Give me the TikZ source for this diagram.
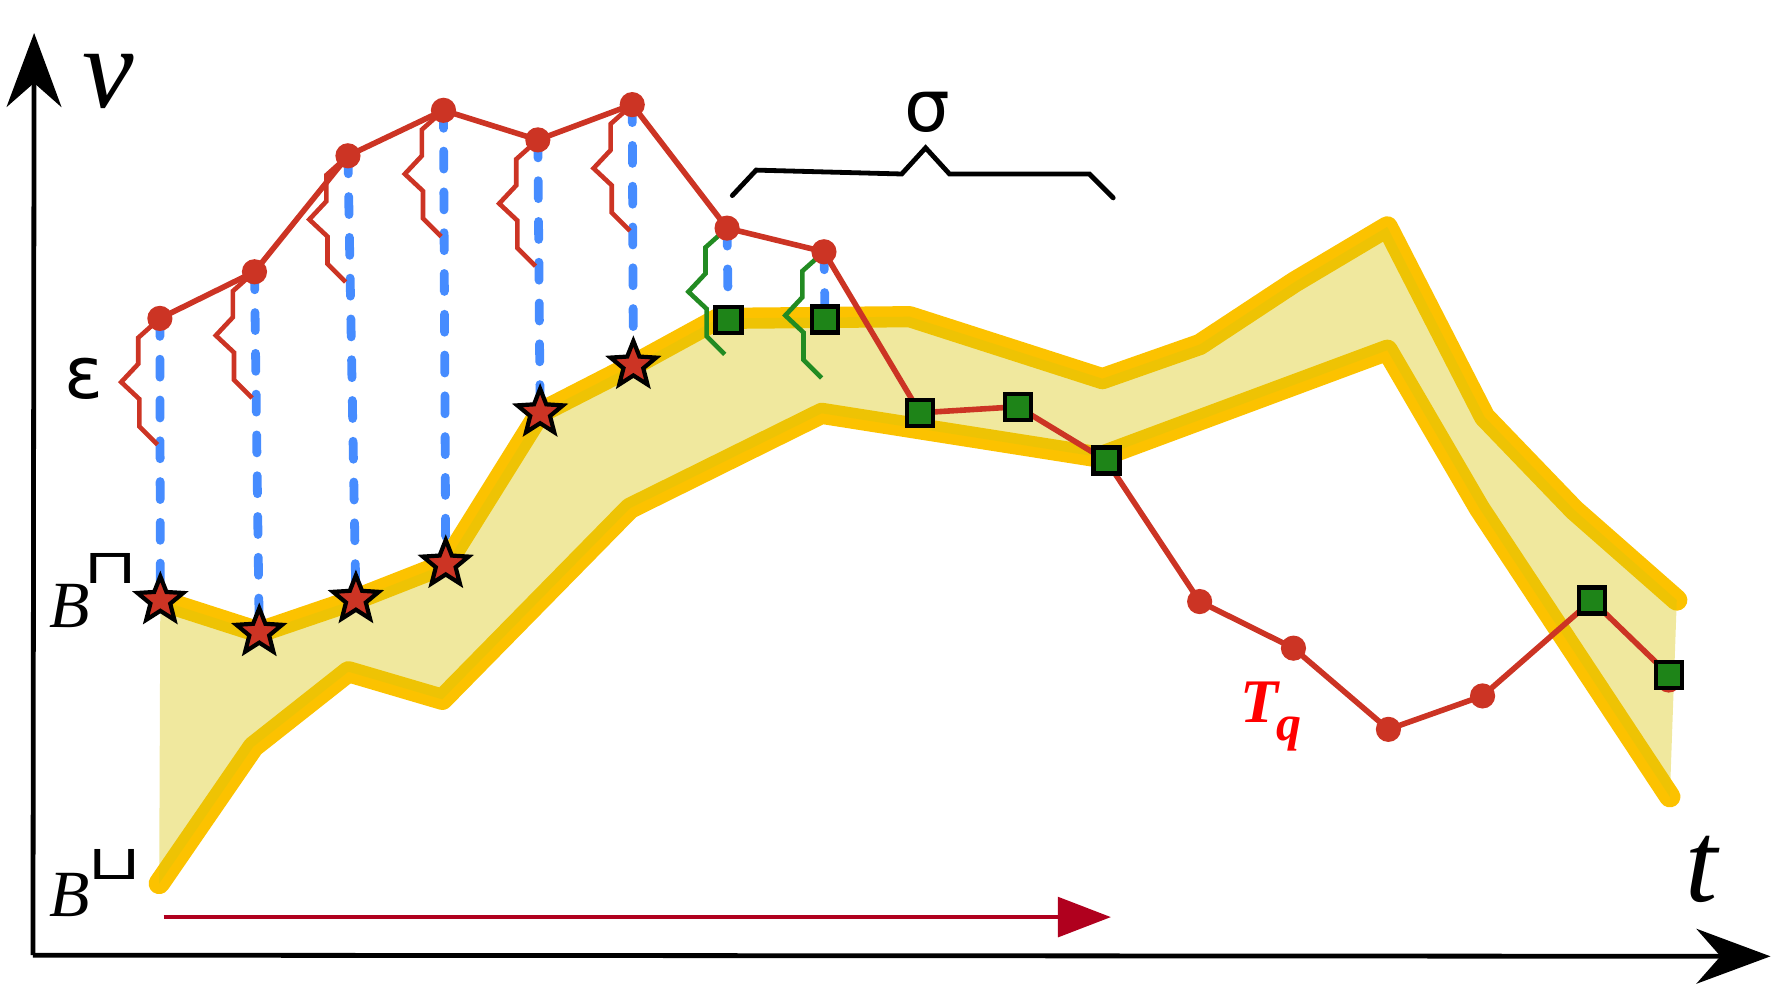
\documentclass[tikz,border=0pt]{standalone}
\usepackage{fontspec}
\setmainfont{Liberation Serif}
\newfontfamily\dejavu{DejaVu Sans}
\usetikzlibrary{arrows.meta,shapes.geometric}
\definecolor{bandline}{RGB}{252,194,0}
\definecolor{bandfill}{RGB}{218,198,12}
\definecolor{trajred}{RGB}{204,52,36}
\definecolor{dashblue}{RGB}{70,140,255}
\definecolor{sqgreen}{RGB}{30,132,24}
\definecolor{zzgreen}{RGB}{34,139,34}
\definecolor{darrow}{RGB}{176,0,30}
\definecolor{labelred}{RGB}{255,0,0}
\begin{document}
\begin{tikzpicture}[x=0.01cm,y=-0.01cm,
  axisline/.style={line width=1.2pt,-{Stealth[length=18.5pt,width=13.7pt,inset=6pt]}},
  bandstroke/.style={draw=bandline,line width=5.3pt,line cap=round,line join=round},
  bandarea/.style={fill=bandfill,fill opacity=0.4},
  traj/.style={draw=trajred,line width=1.4pt,line join=round},
  zigline/.style={line width=1.15pt,line join=miter},
  vdash/.style={draw=dashblue,line width=2.2pt,line cap=round,dash pattern=on 4.5pt off 5.7pt},
  dotmark/.style={circle,fill=trajred,inner sep=0pt,minimum size=6.3pt},
  starmark/.style={star,star points=5,star point ratio=2.3,draw=black,line width=1.05pt,fill=trajred,minimum size=12pt,inner sep=0pt},
  sqmark/.style={rectangle,draw=black,line width=1.1pt,fill=sqgreen,minimum size=6.5pt,inner sep=0pt},
  bracestroke/.style={draw=black,line width=1.2pt,line cap=round,line join=miter},
  biglabel/.style={inner sep=0pt,font=\fontsize{29}{30}\selectfont\itshape},
  blabel/.style={inner sep=0pt,font=\fontsize{16.5}{18}\selectfont\itshape},
  marklabel/.style={inner sep=0pt,font=\dejavu\fontsize{12}{13}\selectfont},
  greeklabel/.style={inner sep=0pt,font=\dejavu\fontsize{18}{20}\selectfont}
]
\useasboundingbox (0,0) rectangle (1568,872);

% band coordinates
\coordinate (u1) at (141,528);
\coordinate (u2) at (228,556);
\coordinate (u3) at (313,527);
\coordinate (u4) at (392,496);
\coordinate (u5) at (475,363);
\coordinate (u6) at (557,321);
\coordinate (u7) at (632,280);
\coordinate (u8) at (800,278.5);
\coordinate (u9) at (969.5,333);
\coordinate (u10) at (1055,303);
\coordinate (u11) at (1138.5,248);
\coordinate (u12) at (1220,199.5);
\coordinate (u13) at (1305.5,366.5);
\coordinate (u14) at (1384.5,448.5);
\coordinate (u15) at (1474.6,527.7);
\coordinate (l1) at (140,777);
\coordinate (l2) at (222.8,656.7);
\coordinate (l3) at (306.4,590.7);
\coordinate (l4) at (389,615);
\coordinate (l5) at (554,447);
\coordinate (l6) at (722.7,363.5);
\coordinate (l7) at (967,402);
\coordinate (l8) at (1220,308);
\coordinate (l9) at (1301,447);
\coordinate (l10) at (1468.5,700.7);

% band lines
\draw[bandstroke] (u1)--(u2)--(u3)--(u4)--(u5)--(u6)--(u7)--(u8)--(u9)--(u10)--(u11)--(u12)--(u13)--(u14)--(u15);
\draw[bandstroke] (l1)--(l2)--(l3)--(l4)--(l5)--(l6)--(l7)--(l8)--(l9)--(l10);
\fill[bandarea] (u1)--(u2)--(u3)--(u4)--(u5)--(u6)--(u7)--(u8)--(u9)--(u10)--(u11)--(u12)--(u13)--(u14)--(u15)
  --(l10)--(l9)--(l8)--(l7)--(l6)--(l5)--(l4)--(l3)--(l2)--(l1)--cycle;

% axes
\coordinate (origin) at (29,840);
\coordinate (vtip) at (30,29);
\coordinate (ttip) at (1557,841);
\draw[axisline] (origin)--(vtip);
\draw[axisline] (origin)--(ttip);

% time arrow
\coordinate (ta) at (144,806.5);
\coordinate (tb) at (977,806.5);
\draw[draw=darrow,line width=1.1pt,-{Triangle[length=13.3pt,width=9.9pt]}] (ta)--(tb);

% brace
\coordinate (br1) at (644,172);
\coordinate (br2) at (665,149.6);
\coordinate (br3) at (793,153);
\coordinate (br4) at (814,130);
\coordinate (br5) at (835,153);
\coordinate (br6) at (958,153);
\coordinate (br7) at (979,174);
\draw[bracestroke] (br1)--(br2)--(br3)--(br4)--(br5)--(br6)--(br7);

% trajectory points
\coordinate (p1) at (140.6,280);
\coordinate (p2) at (223.8,239);
\coordinate (p3) at (306,137);
\coordinate (p4) at (390,97);
\coordinate (p5) at (473,123);
\coordinate (p6) at (556,92);
\coordinate (p7) at (639.4,200.6);
\coordinate (p8) at (724.6,221.4);
\coordinate (p9) at (809,363);
\coordinate (p10) at (895,357.7);
\coordinate (p11) at (973,405);
\coordinate (p12) at (1055,529);
\coordinate (p13) at (1137.5,570);
\coordinate (p14) at (1221,641.4);
\coordinate (p15) at (1303.8,612);
\coordinate (p16) at (1400,528);
\coordinate (p17) at (1467.7,593.4);
\coordinate (p17b) at (1467.5,598);

% projection points
\coordinate (q7) at (640.5,281.5);
\coordinate (q8) at (725.6,281);

% blue dashed projections
\draw[vdash] (p1)--(u1);
\draw[vdash] (p2)--(u2);
\draw[vdash] (p3)--(u3);
\draw[vdash] (p4)--(u4);
\draw[vdash] (p5)--(u5);
\draw[vdash] (p6)--(u6);
\draw[vdash] (p7)--(q7);
\draw[vdash] (p8)--(q8);

% epsilon zigzags
\foreach \p/\c in {p1/trajred,p2/trajred,p3/trajred,p4/trajred,p5/trajred,p6/trajred,p7/zzgreen,p8/zzgreen}{
  \draw[zigline,draw=\c] (\p) -- ++(-19,17) -- ++(0,23) -- ++(-15,16) -- ++(16,15) -- ++(0,24) -- ++(16,16);
}

% trajectory
\draw[traj] (p1)--(p2)--(p3)--(p4)--(p5)--(p6)--(p7)--(p8)--(p9)--(p10)--(p11)--(p12)--(p13)--(p14)--(p15)--(p16)--(p17);

% dots
\foreach \p in {p1,p2,p3,p4,p5,p6,p7,p8,p12,p13,p14,p15,p17b}{
  \node[dotmark] (d\p) at (\p) {};
}

% stars
\foreach \i in {1,...,6}{
  \node[starmark] (s\i) at (u\i) {};
}

% squares
\node[sqmark] (m7) at (q7) {};
\node[sqmark] (m8) at (q8) {};
\node[sqmark] (m9) at (p9) {};
\node[sqmark] (m10) at (p10) {};
\node[sqmark] (m11) at (p11) {};
\node[sqmark] (m16) at (p16) {};
\node[sqmark] (m17) at (p17) {};

% labels
\node[biglabel] (vlab) at (95.5,71.5) {v};
\node[biglabel] (tlab) at (1496,764.5) {t};
\node[greeklabel] (eps) at (73.5,333) {ε};
\node[greeklabel] (sig) at (815.5,98.5) {σ};
\node[blabel] (bup) at (61.5,533) {B};
\node[marklabel] (bupm) at (97,500) {\scalebox{1.45}[1]{⊓}};
\node[blabel] (blo) at (61,787) {B};
\node[marklabel] (blom) at (101,760) {\scalebox{1.45}[1]{⊔}};
\node[inner sep=0pt,text=labelred,font=\fontsize{15.5}{16}\selectfont\bfseries\itshape] (tq) at (1118,630) {T\kern-0.5pt\raisebox{-4.5pt}{\fontsize{12.5}{13}\selectfont q}};
\end{tikzpicture}
\end{document}
